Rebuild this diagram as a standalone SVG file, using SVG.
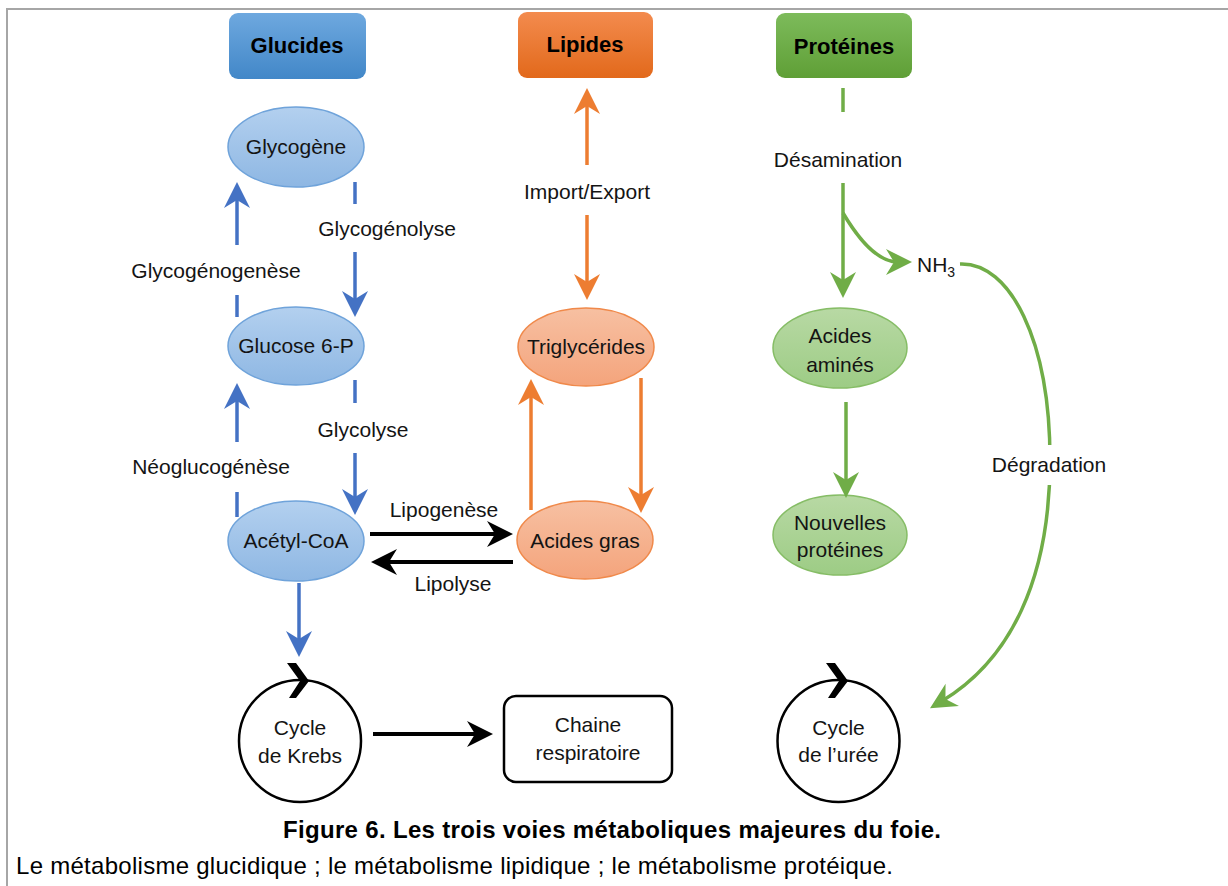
<svg xmlns="http://www.w3.org/2000/svg" width="1228" height="886" viewBox="0 0 1228 886">
<defs>
<style>
.t{font-family:"Liberation Sans",Arial,sans-serif;font-size:21px;fill:#141414;text-anchor:middle}
.h{font-family:"Liberation Sans",Arial,sans-serif;font-size:22px;font-weight:bold;fill:#000;text-anchor:middle}
.bl{stroke:#4472c4;stroke-width:3.5;fill:none}
.or{stroke:#ed7d31;stroke-width:3.5;fill:none}
.gr{stroke:#70ad47;stroke-width:3.5;fill:none}
.bk{stroke:#000;stroke-width:4;fill:none}
.eb{fill:url(#gBlue);stroke:#6fa3da;stroke-width:1.5}
.eo{fill:url(#gOrange);stroke:#f0894a;stroke-width:1.5}
.eg{fill:url(#gGreen);stroke:#86bd66;stroke-width:1.5}
.cyc{fill:#fff;stroke:#000;stroke-width:2.5}
</style>
<linearGradient id="hBlue" x1="0" y1="0" x2="0" y2="1"><stop offset="0" stop-color="#6ea8df"/><stop offset="1" stop-color="#4287c8"/></linearGradient>
<linearGradient id="hOrange" x1="0" y1="0" x2="0" y2="1"><stop offset="0" stop-color="#f38b4e"/><stop offset="1" stop-color="#e2691b"/></linearGradient>
<linearGradient id="hGreen" x1="0" y1="0" x2="0" y2="1"><stop offset="0" stop-color="#7dbb5b"/><stop offset="1" stop-color="#5f9f36"/></linearGradient>
<linearGradient id="gBlue" x1="0" y1="0" x2="0" y2="1"><stop offset="0" stop-color="#b3d0ef"/><stop offset="1" stop-color="#8eb7e3"/></linearGradient>
<linearGradient id="gOrange" x1="0" y1="0" x2="0" y2="1"><stop offset="0" stop-color="#f7c0a2"/><stop offset="1" stop-color="#f4a47c"/></linearGradient>
<linearGradient id="gGreen" x1="0" y1="0" x2="0" y2="1"><stop offset="0" stop-color="#b8d9a4"/><stop offset="1" stop-color="#9dcc85"/></linearGradient>
<marker id="mB" viewBox="-28 -14 30 28" refX="-14" refY="0" markerWidth="30" markerHeight="28" markerUnits="userSpaceOnUse" orient="auto"><path d="M0,0 L-26,-13 L-18,0 L-26,13 Z" fill="#4472c4"/></marker>
<marker id="mO" viewBox="-28 -14 30 28" refX="-14" refY="0" markerWidth="30" markerHeight="28" markerUnits="userSpaceOnUse" orient="auto"><path d="M0,0 L-26,-13 L-18,0 L-26,13 Z" fill="#ed7d31"/></marker>
<marker id="mG" viewBox="-28 -14 30 28" refX="-14" refY="0" markerWidth="30" markerHeight="28" markerUnits="userSpaceOnUse" orient="auto"><path d="M0,0 L-26,-13 L-18,0 L-26,13 Z" fill="#70ad47"/></marker>
<marker id="mK" viewBox="-28 -14 30 28" refX="-14" refY="0" markerWidth="30" markerHeight="28" markerUnits="userSpaceOnUse" orient="auto"><path d="M0,0 L-26,-13 L-18,0 L-26,13 Z" fill="#000"/></marker>
</defs>
<rect x="0" y="0" width="1228" height="886" fill="#fff"/>
<path d="M7,886 V9 H1228" fill="none" stroke="#a6a6a6" stroke-width="2"/>

<g id="glucides"><rect x="229" y="13" width="137" height="66" rx="9" fill="url(#hBlue)"/><text class="h" x="297" y="53">Glucides</text></g>
<g id="lipides"><rect x="518" y="12" width="135" height="66" rx="9" fill="url(#hOrange)"/><text class="h" x="585" y="52">Lipides</text></g>
<g id="proteines"><rect x="776" y="13" width="136" height="65" rx="9" fill="url(#hGreen)"/><text class="h" x="844" y="54">Protéines</text></g>

<g id="glycogene"><ellipse class="eb" cx="296" cy="147" rx="68" ry="40"/><text class="t" x="296" y="154">Glycogène</text></g>
<g id="glucose6p"><ellipse class="eb" cx="296" cy="346" rx="68" ry="39"/><text class="t" x="296" y="353">Glucose 6-P</text></g>
<g id="acetylcoa"><ellipse class="eb" cx="296" cy="541" rx="68" ry="40"/><text class="t" x="296" y="548">Acétyl-CoA</text></g>
<g id="triglycerides"><ellipse class="eo" cx="586" cy="347" rx="68" ry="39"/><text class="t" x="586" y="354">Triglycérides</text></g>
<g id="acidesgras"><ellipse class="eo" cx="585" cy="540" rx="68" ry="39"/><text class="t" x="585" y="548">Acides gras</text></g>
<g id="acidesamines"><ellipse class="eg" cx="840" cy="348" rx="67" ry="40"/><text class="t" x="840" y="343">Acides</text><text class="t" x="840" y="372">aminés</text></g>
<g id="nouvellesproteines"><ellipse class="eg" cx="840" cy="535" rx="67" ry="40"/><text class="t" x="840" y="530">Nouvelles</text><text class="t" x="840" y="557">protéines</text></g>
<g id="krebs"><circle class="cyc" cx="300" cy="741" r="61"/><polygon points="287,663 296,663 309,681 296,698 289,698 300,681" fill="#000"/><text class="t" x="300" y="735">Cycle</text><text class="t" x="300" y="763">de Krebs</text></g>
<g id="chaine"><rect x="504" y="696" width="168" height="86" rx="12" fill="#fff" stroke="#000" stroke-width="2.5"/><text class="t" x="588" y="732">Chaine</text><text class="t" x="588" y="760">respiratoire</text></g>
<g id="uree"><circle class="cyc" cx="838.5" cy="741" r="61"/><polygon points="826,663 835,663 848,681 835,698 828,698 839,681" fill="#000"/><text class="t" x="838.5" y="735">Cycle</text><text class="t" x="838.5" y="762">de l’urée</text></g>
<g id="nh3"><text class="t" x="917" y="272" style="text-anchor:start">NH<tspan font-size="14" dy="5">3</tspan></text></g>

<g id="connectors">
<path class="bl" d="M237,317 V295"/><path class="bl" d="M237,245 V196" marker-end="url(#mB)"/>
<path class="bl" d="M355,182 V204"/><path class="bl" d="M355,252 V303" marker-end="url(#mB)"/>
<path class="bl" d="M237,517 V492"/><path class="bl" d="M237,442 V397" marker-end="url(#mB)"/>
<path class="bl" d="M355,380 V403"/><path class="bl" d="M355,453 V501" marker-end="url(#mB)"/>
<path class="bl" d="M299,583 V643" marker-end="url(#mB)"/>
<path class="bk" d="M370,534 H499" marker-end="url(#mK)"/>
<path class="bk" d="M513,562 H385" marker-end="url(#mK)"/>
<path class="bk" d="M373,734 H479" marker-end="url(#mK)"/>
<path class="or" d="M587,165 V102" marker-end="url(#mO)"/>
<path class="or" d="M587,215 V286" marker-end="url(#mO)"/>
<path class="or" d="M531,510 V393" marker-end="url(#mO)"/>
<path class="or" d="M641,378 V499" marker-end="url(#mO)"/>
<path class="gr" d="M843,88 V112"/>
<path class="gr" d="M843,183 V284" marker-end="url(#mG)"/>
<path class="gr" d="M843,213 Q872,262 898,262" marker-end="url(#mG)"/>
<path class="gr" d="M846,402 V484" marker-end="url(#mG)"/>
<path class="gr" d="M960,264 C1010,262 1050,340 1050,460 C1050,580 1010,660 942,701" marker-end="url(#mG)"/>
<rect x="985" y="445" width="128" height="40" fill="#fff"/>
<text class="t" x="216" y="278">Glycogénogenèse</text>
<text class="t" x="387" y="236">Glycogénolyse</text>
<text class="t" x="211" y="474">Néoglucogénèse</text>
<text class="t" x="363" y="437">Glycolyse</text>
<text class="t" x="444" y="517">Lipogenèse</text>
<text class="t" x="453" y="591">Lipolyse</text>
<text class="t" x="587" y="199">Import/Export</text>
<text class="t" x="838" y="167">Désamination</text>
<text class="t" x="1049" y="472">Dégradation</text>
</g>

<text x="612" y="838" font-family="Liberation Sans, Arial, sans-serif" font-size="24" font-weight="bold" text-anchor="middle" fill="#000" textLength="658">Figure 6. Les trois voies métaboliques majeures du foie.</text>
<text x="16" y="874" font-family="Liberation Sans, Arial, sans-serif" font-size="24" fill="#000" textLength="877">Le métabolisme glucidique ; le métabolisme lipidique ; le métabolisme protéique.</text>
</svg>
